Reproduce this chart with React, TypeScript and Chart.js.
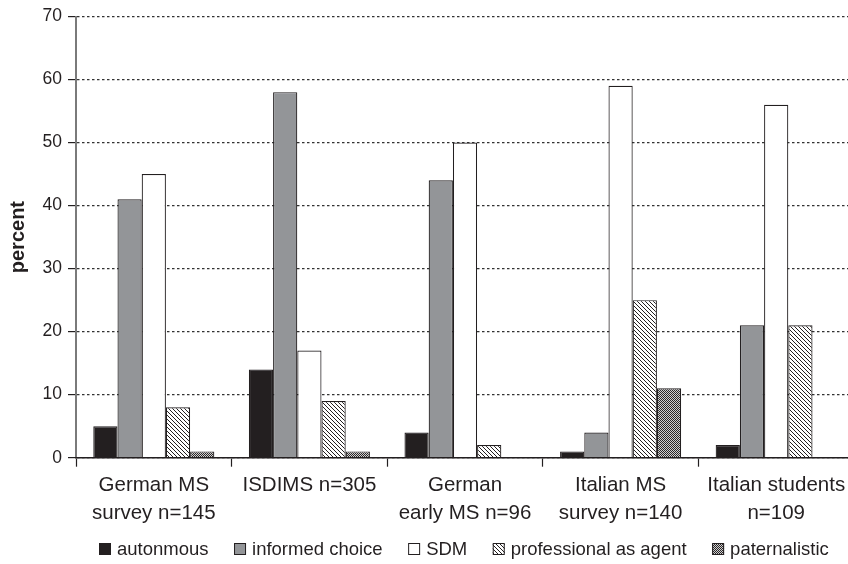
import React, { useEffect, useRef } from "react";
import { Chart, registerables } from "chart.js";

Chart.register(...registerables);

// ---- data ----
const categories: (string | string[])[] = [
  ["German MS", "survey n=145"],
  "ISDIMS n=305",
  ["German", "early MS n=96"],
  ["Italian MS", "survey n=140"],
  ["Italian students", "n=109"],
];
const seriesNames = ["autonmous", "informed choice", "SDM", "professional as agent", "paternalistic"];
const autonomous = [5, 14, 4, 1, 2];
const informedChoice = [41, 58, 44, 4, 21];
const sdm = [45, 17, 50, 59, 56];
const professionalAsAgent = [8, 9, 2, 25, 21];
const paternalistic = [1, 1, 0, 11, 0];
const yMin = 0;
const yMax = 70;
const yStep = 10;
const yTitle = "percent";

// ---- style ----
const FONT = '"Liberation Sans", Arial, Helvetica, sans-serif';
const INK = "#231f20";

function makeHatch(): CanvasPattern | string {
  const c = document.createElement("canvas");
  c.width = 4;
  c.height = 4;
  const g = c.getContext("2d");
  if (!g) return "#fff";
  g.fillStyle = "#ffffff";
  g.fillRect(0, 0, 4, 4);
  g.strokeStyle = INK;
  g.lineWidth = 1;
  g.beginPath();
  g.moveTo(-1, -1);
  g.lineTo(5, 5);
  g.moveTo(-1, 3);
  g.lineTo(1, 5);
  g.moveTo(3, -1);
  g.lineTo(5, 1);
  g.stroke();
  const p = g.createPattern(c, "repeat");
  return p || "#fff";
}

function makeChecker(): CanvasPattern | string {
  const c = document.createElement("canvas");
  c.width = 2;
  c.height = 2;
  const g = c.getContext("2d");
  if (!g) return "#777";
  g.fillStyle = "#cfcfcf";
  g.fillRect(0, 0, 2, 2);
  g.fillStyle = "#2a2627";
  g.fillRect(0, 0, 1, 1);
  g.fillRect(1, 1, 1, 1);
  const p = g.createPattern(c, "repeat");
  return p || "#777";
}

const legendPlugin = {
  id: "customLegend",
  afterDraw(chart: any) {
    const ctx = chart.ctx as CanvasRenderingContext2D;
    const y = 549;
    let x = 99;
    ctx.save();
    ctx.font = `18.5px ${FONT}`;
    ctx.textBaseline = "middle";
    ctx.textAlign = "left";
    chart.data.datasets.forEach((ds: any) => {
      ctx.fillStyle = ds.backgroundColor;
      ctx.fillRect(x, y - 6, 12, 12);
      ctx.strokeStyle = INK;
      ctx.lineWidth = 1;
      ctx.strokeRect(x + 0.5, y - 5.5, 11, 11);
      ctx.fillStyle = INK;
      ctx.fillText(ds.label, x + 18, y + 1);
      x += 18 + ctx.measureText(ds.label).width + 25.5;
    });
    ctx.restore();
  },
};

export default function App() {
  const canvasRef = useRef<HTMLCanvasElement | null>(null);

  useEffect(() => {
    const canvas = canvasRef.current;
    if (!canvas) return;
    const hatch = makeHatch();
    const checker = makeChecker();
    const fills: any[] = [INK, "#939598", "#ffffff", hatch, checker];
    const values = [autonomous, informedChoice, sdm, professionalAsAgent, paternalistic];

    const chart = new Chart(canvas, {
      type: "bar",
      data: {
        labels: categories as any,
        datasets: values.map((v, i) => ({
          label: seriesNames[i],
          data: v,
          backgroundColor: fills[i],
          borderColor: INK,
          borderWidth: 1.2,
          categoryPercentage: 0.778,
          barPercentage: 1,
        })),
      },
      options: {
        animation: false,
        responsive: false,
        maintainAspectRatio: false,
        layout: { padding: { top: 16, left: 0, right: 0, bottom: 0 } },
        plugins: {
          legend: { display: false },
          tooltip: { enabled: false },
          title: { display: false },
        },
        scales: {
          x: {
            offset: true,
            grid: {
              display: true,
              drawOnChartArea: false,
              drawTicks: true,
              tickLength: 9,
              tickColor: INK,
              tickWidth: 1.2,
              offset: true,
            },
            border: { display: true, color: INK, width: 1.6, z: 1 },
            ticks: {
              color: INK,
              font: { size: 20.5, family: FONT, lineHeight: 1.385 },
              padding: 4,
              maxRotation: 0,
              minRotation: 0,
              autoSkip: false,
            },
            afterFit: (s: any) => {
              s.height = 106.3;
            },
          },
          y: {
            min: yMin,
            max: yMax,
            ticks: {
              stepSize: yStep,
              color: INK,
              font: { size: 17.5, family: FONT },
              padding: 6,
            },
            grid: {
              color: "#333333",
              lineWidth: 1.2,
              tickColor: INK,
              tickLength: 8,
              tickWidth: 1.2,
              tickBorderDash: [],
            },
            border: { display: true, color: "#7a7a7a", width: 2, dash: [2.5, 2.5] },
            title: {
              display: true,
              text: yTitle,
              color: INK,
              font: { size: 20, weight: "bold", family: FONT, lineHeight: 1.2 },
              padding: { top: 6.5, bottom: 0 },
            },
            afterFit: (s: any) => {
              s.width = 76;
            },
          },
        },
      } as any,
      plugins: [legendPlugin],
    });
    return () => chart.destroy();
  }, []);

  return (
    <div
      style={{
        position: "fixed",
        left: 0,
        top: 0,
        width: 848,
        height: 564,
        overflow: "hidden",
        background: "#fff",
      }}
    >
      <canvas ref={canvasRef} width={854} height={564} style={{ display: "block" }} />
    </div>
  );
}
